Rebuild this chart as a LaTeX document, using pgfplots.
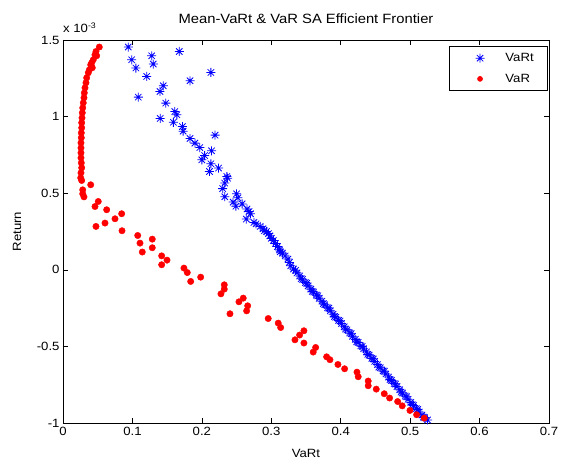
\documentclass[border=0pt]{standalone}
\usepackage{pgfplots}
\pgfplotsset{compat=1.18}
\usepackage{fontspec}
\setmainfont[FakeStretch=1.1]{Liberation Sans}
\pgfdeclareplotmark{mstar}{%
 \pgfpathmoveto{\pgfpoint{-\pgfplotmarksize}{0pt}}\pgfpathlineto{\pgfpoint{\pgfplotmarksize}{0pt}}%
 \pgfpathmoveto{\pgfpoint{0pt}{-\pgfplotmarksize}}\pgfpathlineto{\pgfpoint{0pt}{\pgfplotmarksize}}%
 \pgfpathmoveto{\pgfpoint{-0.707\pgfplotmarksize}{-0.707\pgfplotmarksize}}\pgfpathlineto{\pgfpoint{0.707\pgfplotmarksize}{0.707\pgfplotmarksize}}%
 \pgfpathmoveto{\pgfpoint{-0.707\pgfplotmarksize}{0.707\pgfplotmarksize}}\pgfpathlineto{\pgfpoint{0.707\pgfplotmarksize}{-0.707\pgfplotmarksize}}%
 \pgfusepathqstroke}
\pgfplotsset{
  legstar/.style={legend image code/.code={\path (0bp,0bp) (41bp,0bp); \draw[##1] plot coordinates {(18bp,0bp)};}},
  legdot/.style={legend image code/.code={\path (0bp,0bp) (41bp,0bp); \draw[##1, mark size=2.5bp] plot coordinates {(18bp,0bp)};}},
}
\pgfplotstableread{
x y
0.0940 1.454
0.1675 1.425
0.1277 1.397
0.0989 1.371
0.1300 1.343
0.1050 1.317
0.2130 1.288
0.1205 1.262
0.1830 1.234
0.1444 1.201
0.1397 1.164
0.1084 1.127
0.1480 1.088
0.1610 1.033
0.1640 1.012
0.1400 0.988
0.1590 0.963
0.1720 0.935
0.1730 0.905
0.2190 0.879
0.1830 0.857
0.1900 0.827
0.1970 0.798
0.2140 0.777
0.2040 0.746
0.2000 0.718
0.2130 0.692
0.2240 0.664
0.2110 0.642
0.2360 0.609
0.2370 0.598
0.2330 0.566
0.2300 0.530
0.2500 0.496
0.2330 0.477
0.2520 0.470
0.2450 0.442
0.2580 0.430
0.2490 0.415
0.2650 0.397
0.2680 0.380
0.2700 0.366
0.2640 0.331
0.2750 0.309
0.2780 0.300
0.2840 0.283
0.2880 0.268
0.2900 0.255
0.2930 0.250
0.2960 0.236
0.2980 0.222
0.3000 0.205
0.3030 0.191
0.3060 0.172
0.3090 0.152
0.3120 0.130
0.3130 0.118
0.3160 0.109
0.3200 0.090
0.3240 0.070
0.3260 0.048
0.3280 0.026
0.3320 0.005
0.3350 -0.003
0.3370 -0.020
0.3410 -0.040
0.3430 -0.058
0.3450 -0.062
0.3490 -0.083
0.3510 -0.088
0.3530 -0.105
0.3570 -0.126
0.3590 -0.141
0.3610 -0.145
0.3650 -0.165
0.3670 -0.170
0.3690 -0.186
0.3730 -0.205
0.3750 -0.221
0.3770 -0.228
0.3810 -0.248
0.3830 -0.250
0.3850 -0.268
0.3890 -0.290
0.3910 -0.305
0.3930 -0.310
0.3970 -0.330
0.3990 -0.335
0.4010 -0.350
0.4050 -0.372
0.4070 -0.387
0.4090 -0.392
0.4130 -0.412
0.4150 -0.417
0.4170 -0.434
0.4210 -0.454
0.4230 -0.470
0.4250 -0.474
0.4290 -0.496
0.4310 -0.500
0.4330 -0.515
0.4370 -0.536
0.4390 -0.552
0.4410 -0.557
0.4450 -0.578
0.4470 -0.582
0.4490 -0.598
0.4530 -0.619
0.4550 -0.635
0.4570 -0.640
0.4610 -0.660
0.4630 -0.662
0.4650 -0.680
0.4690 -0.700
0.4710 -0.716
0.4730 -0.722
0.4770 -0.742
0.4790 -0.746
0.4810 -0.762
0.4850 -0.783
0.4870 -0.798
0.4890 -0.804
0.4930 -0.824
0.4950 -0.828
0.4970 -0.845
0.5010 -0.866
0.5030 -0.880
0.5050 -0.886
0.5090 -0.907
0.5110 -0.912
0.5130 -0.928
0.5170 -0.948
0.5190 -0.962
0.5210 -0.965
0.5250 -0.980
}\vart
\pgfplotstableread{
x y
0.0523 1.454
0.0475 1.425
0.0460 1.403
0.0485 1.397
0.0436 1.371
0.0413 1.351
0.0399 1.338
0.0422 1.319
0.0379 1.305
0.0364 1.286
0.0341 1.253
0.0331 1.221
0.0317 1.188
0.0307 1.155
0.0302 1.123
0.0292 1.090
0.0284 1.057
0.0278 1.025
0.0274 0.992
0.0269 0.960
0.0269 0.927
0.0264 0.894
0.0264 0.862
0.0259 0.829
0.0259 0.796
0.0259 0.764
0.0259 0.731
0.0264 0.698
0.0269 0.666
0.0259 0.633
0.0255 0.600
0.0269 0.583
0.0399 0.555
0.0284 0.522
0.0284 0.496
0.0302 0.476
0.0508 0.446
0.0461 0.413
0.0629 0.392
0.0845 0.366
0.0749 0.333
0.0605 0.305
0.0475 0.283
0.0850 0.255
0.1076 0.224
0.1286 0.200
0.1109 0.174
0.1286 0.144
0.1142 0.116
0.1421 0.091
0.1498 0.063
0.1421 0.033
0.1742 0.011
0.1790 -0.018
0.1983 -0.048
0.1839 -0.076
0.2323 -0.098
0.2323 -0.126
0.2275 -0.157
0.2596 -0.185
0.2534 -0.209
0.2660 -0.235
0.2645 -0.268
0.2405 -0.287
0.2956 -0.318
0.3100 -0.348
0.3135 -0.377
0.3470 -0.398
0.3408 -0.426
0.3341 -0.457
0.3470 -0.478
0.3639 -0.507
0.3604 -0.537
0.3797 -0.568
0.3845 -0.587
0.3960 -0.618
0.4056 -0.646
0.4234 -0.668
0.4252 -0.698
0.4396 -0.726
0.4396 -0.757
0.4512 -0.779
0.4627 -0.809
0.4704 -0.837
0.4820 -0.860
0.4886 -0.888
0.4997 -0.918
0.5093 -0.946
0.5203 -0.968
}\var
\begin{document}
\begin{tikzpicture}
\begin{axis}[name=ax, at={(0,0)}, anchor=south west,
  scale only axis, width=486bp, height=383bp, clip=false,
  xmin=0, xmax=0.7, ymin=-1, ymax=1.5,
  xtick={0,0.1,0.2,0.3,0.4,0.5,0.6,0.7},
  xticklabels={0,0.1,0.2,0.3,0.4,0.5,0.6,0.7},
  ytick={-1,-0.5,0,0.5,1,1.5},
  yticklabels={-1,-0.5,0,0.5,1,1.5},
  tick align=inside, major tick length=5bp,
  tick style={black, line width=0.5bp},
  axis line style={black, line width=0.6bp},
  font=\fontsize{12}{14}\selectfont,
  tick label style={font=\fontsize{12}{14}\selectfont},
  xticklabel style={yshift=-1bp},
  title={Mean-VaRt \& VaR SA Efficient Frontier},
  title style={at={(axis description cs:0.5,1)}, anchor=base, yshift=11bp, font=\fontsize{13.5}{15}\selectfont},
  xlabel={VaRt}, ylabel={Return},
  xlabel style={at={(axis description cs:0.5,-0.079)}, anchor=center},
  ylabel style={at={(axis description cs:-0.0947,0.5)}, anchor=center},
  legend style={at={(1,1)}, anchor=north east, xshift=-1bp, yshift=-6bp,
    draw=black, line width=0.6bp, inner xsep=12bp, inner ysep=5bp, row sep=7bp,
    nodes={inner sep=2bp}, font=\fontsize{12}{14}\selectfont},
  legend cell align=left,
]
\addplot[only marks, mark=mstar, mark size=4.5bp, color=blue, line width=0.8bp, legstar]
  table[x=x,y=y]{\vart};
\addlegendentry{VaRt}
\addplot[only marks, mark=*, mark size=3.2bp, color=red, fill=red, legdot]
  table[x=x,y=y]{\var};
\addlegendentry{VaR}
\node[anchor=base west, inner sep=0pt, font=\fontsize{12}{14}\selectfont] at ([yshift=7bp]rel axis cs:0,1) {x 10\textsuperscript{-3}};
\end{axis}
\pgfresetboundingbox
\path[use as bounding box] (-63bp,-36bp) rectangle (498bp,423bp);
\end{tikzpicture}
\end{document}
